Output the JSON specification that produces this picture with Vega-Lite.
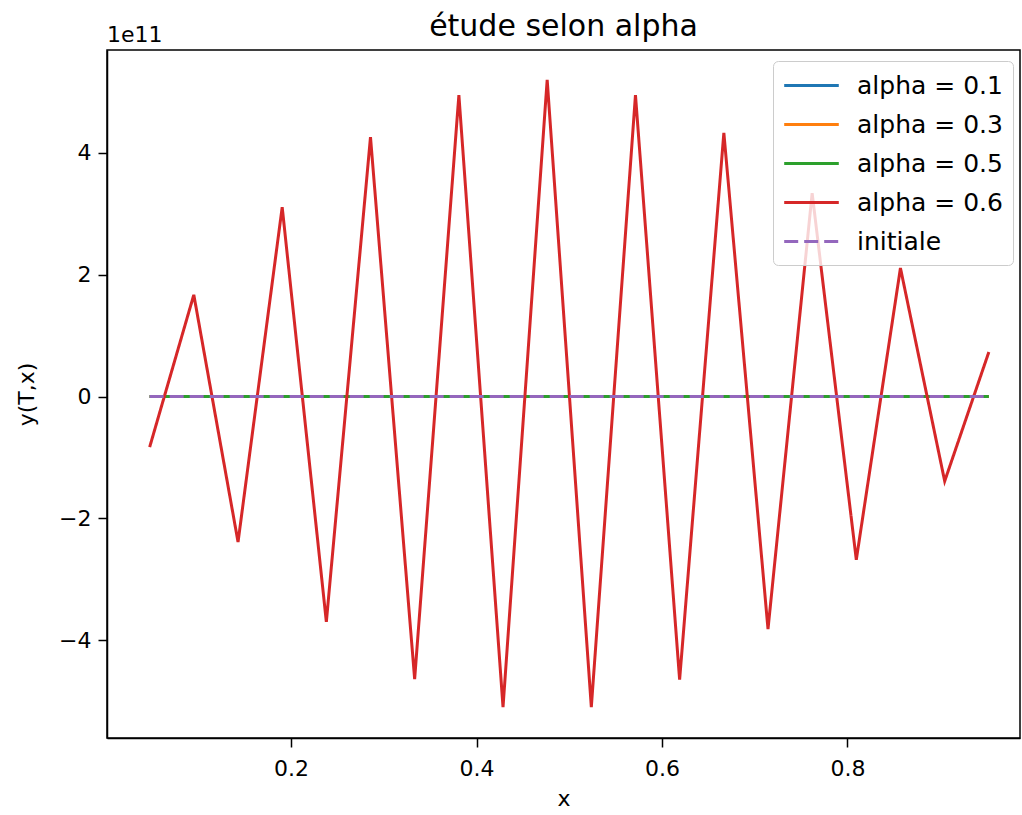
{
  "$schema": "https://vega.github.io/schema/vega-lite/v6.json",
  "autosize": "none",
  "width": 913,
  "height": 688,
  "padding": {"left": 107, "top": 50, "right": 2, "bottom": 77},
  "background": "white",
  "title": {"text": "étude selon alpha", "font": "DejaVu Sans", "fontSize": 30, "fontWeight": "normal", "color": "black", "anchor": "middle", "offset": -18},
  "config": {
    "view": {"stroke": "black", "strokeWidth": 1.5},
    "axis": {"grid": false, "domainColor": "black", "domainWidth": 1.5, "tickColor": "black", "tickWidth": 1.5, "labelColor": "black", "titleColor": "black", "labelFont": "DejaVu Sans", "titleFont": "DejaVu Sans", "labelFontSize": 22, "titleFontSize": 22, "titleFontWeight": "normal", "tickSize": 9, "labelPadding": 7},
    "legend": {"orient": "none", "legendX": 666, "legendY": 11, "padding": 10, "strokeColor": "#cccccc", "cornerRadius": 5, "fillColor": "rgba(255,255,255,0.8)", "labelFont": "DejaVu Sans", "labelFontSize": 25, "labelColor": "black", "symbolType": "M-2.1,0H2.1", "symbolSize": 676, "symbolStrokeWidth": 3, "symbolOffset": 14, "labelOffset": 31, "rowPadding": 11}
  },
  "layer": [
    {
      "data": {"values": [
        {"x": 0.0476, "y": 0, "series": "alpha = 0.1"}, {"x": 0.0952, "y": 0, "series": "alpha = 0.1"}, {"x": 0.1429, "y": 0, "series": "alpha = 0.1"}, {"x": 0.1905, "y": 0, "series": "alpha = 0.1"}, {"x": 0.2381, "y": 0, "series": "alpha = 0.1"}, {"x": 0.2857, "y": 0, "series": "alpha = 0.1"}, {"x": 0.3333, "y": 0, "series": "alpha = 0.1"}, {"x": 0.381, "y": 0, "series": "alpha = 0.1"}, {"x": 0.4286, "y": 0, "series": "alpha = 0.1"}, {"x": 0.4762, "y": 0, "series": "alpha = 0.1"}, {"x": 0.5238, "y": 0, "series": "alpha = 0.1"}, {"x": 0.5714, "y": 0, "series": "alpha = 0.1"}, {"x": 0.619, "y": 0, "series": "alpha = 0.1"}, {"x": 0.6667, "y": 0, "series": "alpha = 0.1"}, {"x": 0.7143, "y": 0, "series": "alpha = 0.1"}, {"x": 0.7619, "y": 0, "series": "alpha = 0.1"}, {"x": 0.8095, "y": 0, "series": "alpha = 0.1"}, {"x": 0.8571, "y": 0, "series": "alpha = 0.1"}, {"x": 0.9048, "y": 0, "series": "alpha = 0.1"}, {"x": 0.9524, "y": 0, "series": "alpha = 0.1"},
        {"x": 0.0476, "y": 0, "series": "alpha = 0.3"}, {"x": 0.0952, "y": 0, "series": "alpha = 0.3"}, {"x": 0.1429, "y": 0, "series": "alpha = 0.3"}, {"x": 0.1905, "y": 0, "series": "alpha = 0.3"}, {"x": 0.2381, "y": 0, "series": "alpha = 0.3"}, {"x": 0.2857, "y": 0, "series": "alpha = 0.3"}, {"x": 0.3333, "y": 0, "series": "alpha = 0.3"}, {"x": 0.381, "y": 0, "series": "alpha = 0.3"}, {"x": 0.4286, "y": 0, "series": "alpha = 0.3"}, {"x": 0.4762, "y": 0, "series": "alpha = 0.3"}, {"x": 0.5238, "y": 0, "series": "alpha = 0.3"}, {"x": 0.5714, "y": 0, "series": "alpha = 0.3"}, {"x": 0.619, "y": 0, "series": "alpha = 0.3"}, {"x": 0.6667, "y": 0, "series": "alpha = 0.3"}, {"x": 0.7143, "y": 0, "series": "alpha = 0.3"}, {"x": 0.7619, "y": 0, "series": "alpha = 0.3"}, {"x": 0.8095, "y": 0, "series": "alpha = 0.3"}, {"x": 0.8571, "y": 0, "series": "alpha = 0.3"}, {"x": 0.9048, "y": 0, "series": "alpha = 0.3"}, {"x": 0.9524, "y": 0, "series": "alpha = 0.3"},
        {"x": 0.0476, "y": 0, "series": "alpha = 0.5"}, {"x": 0.0952, "y": 0, "series": "alpha = 0.5"}, {"x": 0.1429, "y": 0, "series": "alpha = 0.5"}, {"x": 0.1905, "y": 0, "series": "alpha = 0.5"}, {"x": 0.2381, "y": 0, "series": "alpha = 0.5"}, {"x": 0.2857, "y": 0, "series": "alpha = 0.5"}, {"x": 0.3333, "y": 0, "series": "alpha = 0.5"}, {"x": 0.381, "y": 0, "series": "alpha = 0.5"}, {"x": 0.4286, "y": 0, "series": "alpha = 0.5"}, {"x": 0.4762, "y": 0, "series": "alpha = 0.5"}, {"x": 0.5238, "y": 0, "series": "alpha = 0.5"}, {"x": 0.5714, "y": 0, "series": "alpha = 0.5"}, {"x": 0.619, "y": 0, "series": "alpha = 0.5"}, {"x": 0.6667, "y": 0, "series": "alpha = 0.5"}, {"x": 0.7143, "y": 0, "series": "alpha = 0.5"}, {"x": 0.7619, "y": 0, "series": "alpha = 0.5"}, {"x": 0.8095, "y": 0, "series": "alpha = 0.5"}, {"x": 0.8571, "y": 0, "series": "alpha = 0.5"}, {"x": 0.9048, "y": 0, "series": "alpha = 0.5"}, {"x": 0.9524, "y": 0, "series": "alpha = 0.5"},
        {"x": 0.0476, "y": -83000000000, "series": "alpha = 0.6"}, {"x": 0.0952, "y": 167000000000, "series": "alpha = 0.6"}, {"x": 0.1429, "y": -239000000000, "series": "alpha = 0.6"}, {"x": 0.1905, "y": 311000000000, "series": "alpha = 0.6"}, {"x": 0.2381, "y": -370000000000, "series": "alpha = 0.6"}, {"x": 0.2857, "y": 426000000000, "series": "alpha = 0.6"}, {"x": 0.3333, "y": -464000000000, "series": "alpha = 0.6"}, {"x": 0.381, "y": 495000000000, "series": "alpha = 0.6"}, {"x": 0.4286, "y": -510000000000, "series": "alpha = 0.6"}, {"x": 0.4762, "y": 520000000000, "series": "alpha = 0.6"}, {"x": 0.5238, "y": -510000000000, "series": "alpha = 0.6"}, {"x": 0.5714, "y": 495000000000, "series": "alpha = 0.6"}, {"x": 0.619, "y": -465000000000, "series": "alpha = 0.6"}, {"x": 0.6667, "y": 433000000000, "series": "alpha = 0.6"}, {"x": 0.7143, "y": -382000000000, "series": "alpha = 0.6"}, {"x": 0.7619, "y": 334000000000, "series": "alpha = 0.6"}, {"x": 0.8095, "y": -268000000000, "series": "alpha = 0.6"}, {"x": 0.8571, "y": 211000000000, "series": "alpha = 0.6"}, {"x": 0.9048, "y": -139000000000, "series": "alpha = 0.6"}, {"x": 0.9524, "y": 73000000000, "series": "alpha = 0.6"},
        {"x": 0.0476, "y": 0, "series": "initiale"}, {"x": 0.0952, "y": 0, "series": "initiale"}, {"x": 0.1429, "y": 0, "series": "initiale"}, {"x": 0.1905, "y": 0, "series": "initiale"}, {"x": 0.2381, "y": 0, "series": "initiale"}, {"x": 0.2857, "y": 0, "series": "initiale"}, {"x": 0.3333, "y": 0, "series": "initiale"}, {"x": 0.381, "y": 0, "series": "initiale"}, {"x": 0.4286, "y": 0, "series": "initiale"}, {"x": 0.4762, "y": 0, "series": "initiale"}, {"x": 0.5238, "y": 0, "series": "initiale"}, {"x": 0.5714, "y": 0, "series": "initiale"}, {"x": 0.619, "y": 0, "series": "initiale"}, {"x": 0.6667, "y": 0, "series": "initiale"}, {"x": 0.7143, "y": 0, "series": "initiale"}, {"x": 0.7619, "y": 0, "series": "initiale"}, {"x": 0.8095, "y": 0, "series": "initiale"}, {"x": 0.8571, "y": 0, "series": "initiale"}, {"x": 0.9048, "y": 0, "series": "initiale"}, {"x": 0.9524, "y": 0, "series": "initiale"}
      ]},
      "mark": {"type": "line", "strokeWidth": 3, "clip": true},
      "encoding": {
        "x": {"field": "x", "type": "quantitative", "scale": {"domain": [0.0016, 0.986], "nice": false, "zero": false}, "axis": {"title": "x", "values": [0.2, 0.4, 0.6, 0.8], "format": ".1f", "labelPadding": 11, "titlePadding": 9}},
        "y": {"field": "y", "type": "quantitative", "scale": {"domain": [-560700000000, 569000000000], "nice": false, "zero": false}, "axis": {"title": "y(T,x)", "values": [-400000000000, -200000000000, 0, 200000000000, 400000000000], "labelExpr": "format(datum.value/1e11, 'd')", "titlePadding": 20}},
        "color": {"field": "series", "type": "nominal", "scale": {"domain": ["alpha = 0.1", "alpha = 0.3", "alpha = 0.5", "alpha = 0.6", "initiale"], "range": ["#1f77b4", "#ff7f0e", "#2ca02c", "#d62728", "#9467bd"]}, "legend": {"title": null}},
        "strokeDash": {"field": "series", "type": "nominal", "scale": {"domain": ["alpha = 0.1", "alpha = 0.3", "alpha = 0.5", "alpha = 0.6", "initiale"], "range": [[1, 0], [1, 0], [1, 0], [1, 0], [14, 6]]}, "legend": {"title": null}},
        "order": {"field": "x", "type": "quantitative"}
      }
    },
    {
      "data": {"values": [{"t": "1e11"}]},
      "mark": {"type": "text", "align": "left", "baseline": "alphabetic", "dy": -8, "font": "DejaVu Sans", "fontSize": 22, "color": "black"},
      "encoding": {
        "x": {"datum": 0.0016, "type": "quantitative"},
        "y": {"datum": 569000000000, "type": "quantitative"},
        "text": {"field": "t"}
      }
    }
  ]
}
